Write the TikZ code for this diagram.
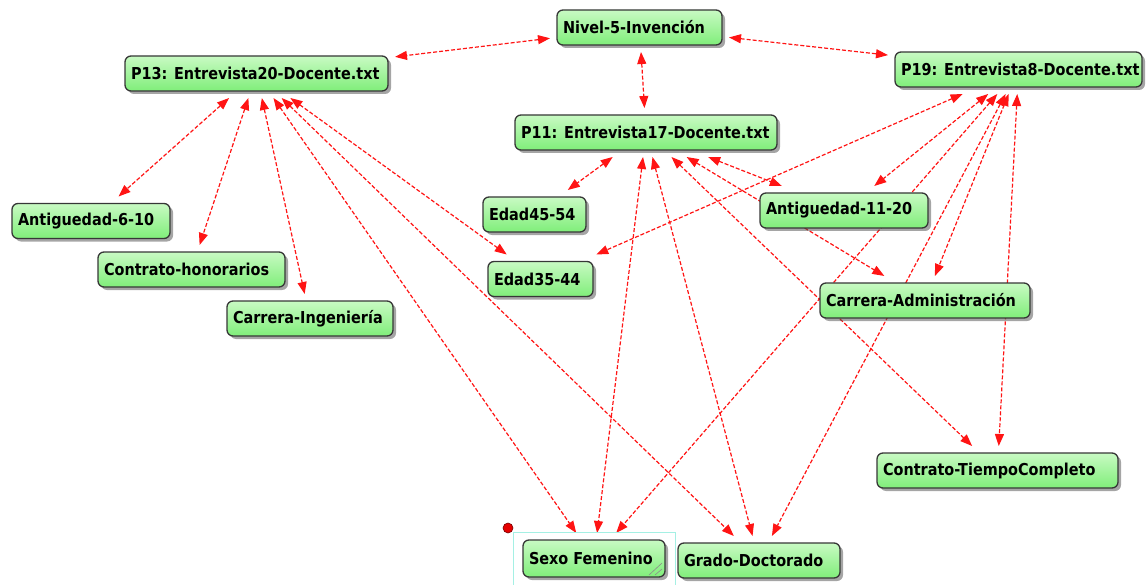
\documentclass[tikz,border=0pt]{standalone}
\usepackage{fontspec}
\setmainfont{DejaVu Sans}[FakeStretch=0.88]
\usetikzlibrary{arrows.meta,shadows}
\pgfdeclarelayer{bg}
\pgfsetlayers{bg,main}
\definecolor{boxtop}{RGB}{200,250,195}
\definecolor{boxbot}{RGB}{128,238,122}
\definecolor{boxline}{RGB}{55,55,55}
\definecolor{edgered}{RGB}{255,20,20}
\definecolor{selcyan}{RGB}{165,240,228}
\def\boxtxt#1#2{\makebox[#1][l]{#2}}
\begin{document}
\begin{tikzpicture}[x=1pt,y=-1pt,
  gbox/.style={rectangle, rounded corners=6pt, draw=boxline, line width=1.3pt,
    top color=boxtop, bottom color=boxbot,
    drop shadow={shadow xshift=3pt, shadow yshift=-3pt, opacity=0.5, fill=black!70},
    minimum height=35pt, inner xsep=6pt, inner ysep=0pt, outer sep=7pt,
    font=\bfseries\fontsize{16.4}{19}\selectfont},
  lnk/.style={draw=edgered, line width=1.2pt, dash pattern=on 4pt off 2pt,
    {Triangle[length=12pt,width=9pt]}-{Triangle[length=12pt,width=9pt]}}
]
\useasboundingbox (0,0) rectangle (1147,585);
% selection frame and marker
\node[draw=selcyan, line width=1pt, minimum width=162pt, minimum height=53pt, inner sep=0pt] (sel) at (594,558.5) {};
\node[circle, fill=red!90!black, draw=red!45!black, line width=0.6pt, minimum size=10pt, inner sep=0pt] (dot) at (508,528) {};
% nodes
\node[gbox] (niv) at (639.5,27.5) {\boxtxt{153pt}{Nivel-5-Invención}};
\node[gbox] (p13) at (256.5,73.5) {\boxtxt{251pt}{P13: Entrevista20-Docente.txt}};
\node[gbox] (p19) at (1018.5,69.5) {\boxtxt{235pt}{P19: Entrevista8-Docente.txt}};
\node[gbox] (p11) at (646,132.5) {\boxtxt{250pt}{P11: Entrevista17-Docente.txt}};
\node[gbox] (e45) at (534.5,214.5) {\boxtxt{91pt}{Edad45-54}};
\node[gbox] (e35) at (540.5,279) {\boxtxt{93pt}{Edad35-44}};
\node[gbox] (a1120) at (844,210.5) {\boxtxt{156pt}{Antiguedad-11-20}};
\node[gbox] (a610) at (91,221) {\boxtxt{146pt}{Antiguedad-6-10}};
\node[gbox] (chon) at (191.5,269.5) {\boxtxt{175pt}{Contrato-honorarios}};
\node[gbox] (cing) at (310,318.5) {\boxtxt{154pt}{Carrera-Ingeniería}};
\node[gbox] (cadm) at (925,300.5) {\boxtxt{198pt}{Carrera-Administración}};
\node[gbox] (ctc) at (997.5,470.5) {\boxtxt{229pt}{Contrato-TiempoCompleto}};
\node[gbox, minimum height=37pt] (sexo) at (594,558.5) {\boxtxt{130pt}{Sexo Femenino}};
\node[gbox] (grado) at (759,560.5) {\boxtxt{150pt}{Grado-Doctorado}};
% resize grip
\draw[black!45, line width=0.6pt] (649,575) -- (662,563) (655,575) -- (662,569);
% connectors
\begin{pgfonlayer}{bg}
\draw[lnk] (niv) -- (p13);
\draw[lnk] (niv) -- (p19);
\draw[lnk] (niv) -- (p11);
\draw[lnk] (p13) -- (a610);
\draw[lnk] (p13) -- (chon);
\draw[lnk] (p13) -- (cing);
\draw[lnk] (p13) -- (sexo);
\draw[lnk] (p13) -- (grado);
\draw[lnk] (p13) -- (e35);
\draw[lnk] (p11) -- (e45);
\draw[lnk] (p11) -- (sexo);
\draw[lnk] (p11) -- (grado);
\draw[lnk] (p11) -- (ctc);
\draw[lnk] (p11) -- (cadm);
\draw[lnk] (p11) -- (a1120);
\draw[lnk] (p19) -- (e35);
\draw[lnk] (p19) -- (a1120);
\draw[lnk] (p19) -- (sexo);
\draw[lnk] (p19) -- (grado);
\draw[lnk] (p19) -- (cadm);
\draw[lnk] (p19) -- (ctc);
\end{pgfonlayer}
\end{tikzpicture}
\end{document}
